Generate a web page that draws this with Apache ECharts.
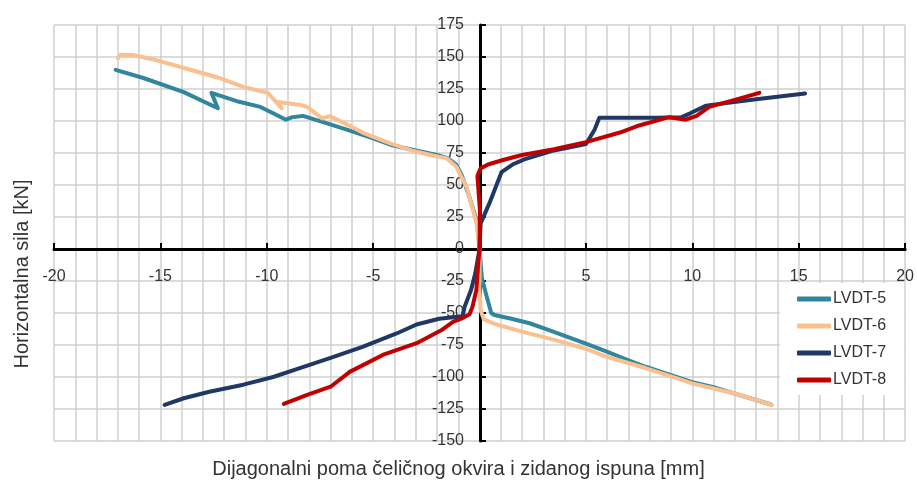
<!DOCTYPE html>
<html>
<head>
<meta charset="utf-8">
<script src="https://cdn.jsdelivr.net/npm/echarts@6/dist/echarts.min.js"></script>
<style>
html,body{margin:0;padding:0;background:#fff;}
#chart{width:917px;height:486px;}
</style>
</head>
<body>
<div id="chart"></div>
<script>
// Series names
const seriesNames = ['LVDT-5', 'LVDT-6', 'LVDT-7', 'LVDT-8'];

// [displacement mm, force kN]
const lvdt5 = [
  [-17.1,140],[-15.8,133.6],[-13.9,122.6],[-12.3,110],[-12.6,122],[-11.3,115],[-10.3,111],[-9.7,106],
  [-9.1,101],[-8.8,103],[-8.3,104],[-7.2,98.4],[-6.2,93],[-5,86.5],[-4.1,81],[-3,77],[-2,73.5],
  [-1.5,71],[-1.1,66],[-0.85,58],[-0.5,42],[-0.1,20],[0,0],
  [0.1,-22],[0.3,-35],[0.55,-50],[0.7,-51.6],[1.5,-54.5],[2.35,-58],[3.2,-63],[4.1,-68.5],[5,-74],
  [5.95,-80],[7,-87],[7.8,-92],[9,-98.5],[10,-104],[11,-108],[12,-113],[13.7,-121.5]
];
const lvdt6 = [
  [-17,149],[-16.9,151.5],[-16.3,151.5],[-15.2,147.6],[-13.8,141],[-12.3,134],[-11.1,126.6],[-9.95,122],
  [-9.3,110],[-9.55,115],[-8.4,112.5],[-8.1,111],[-7.4,102],[-7.04,103.8],[-6.2,97],[-5.5,91],[-4.2,82.5],
  [-3.2,77],[-2.2,73],[-1.56,71],[-1.08,64],[-0.6,48],[-0.14,20],[0,0],
  [0,-32],[0.05,-48],[0.2,-55],[0.8,-59],[2,-64.5],[3.75,-72],[5,-78],[5.95,-84],[7.8,-93],
  [10,-105],[11.9,-112.5],[13.75,-121.8]
];
const lvdt7 = [
  [15.3,121.5],[13,117],[10.65,112],[9.9,106],[9.5,103],[8.3,102.5],[5.63,102.5],[5.4,93],[5.0,82],
  [3.5,77],[2.1,70],[1.55,66],[1.03,60],[0.47,36],[0.05,20],[0,0],
  [-0.2,-19],[-0.4,-32],[-0.7,-45],[-0.8,-52.5],[-1.9,-54.5],[-2.96,-59],[-3.9,-66],[-5.5,-76.5],
  [-7,-85],[-8.45,-93],[-9.7,-100],[-11.1,-106],[-12.7,-111.5],[-13.9,-116.6],[-14.8,-121.8]
];
const lvdt8 = [
  [13.15,122],[12,116.5],[10.8,111],[10.2,104],[9.7,101],[8.9,103],[7.5,96.5],[6.6,91],[5,83.5],
  [3.5,78],[2.0,73.4],[1.1,69.5],[0.4,66],[0.05,63],[-0.1,57],[0.02,30],[0,0],
  [-0.05,-9],[-0.15,-32],[-0.33,-45],[-0.47,-51],[-0.8,-54],[-1.25,-57],[-1.8,-63.5],[-2.96,-73.6],
  [-4.55,-82.8],[-6.1,-96],[-7.0,-107.6],[-8.1,-114],[-9.2,-121]
];

// Axis settings
const xRange = [-20, 20, 5];
const yRange = [-150, 175, 25];
const xTitle = 'Dijagonalni poma čeličnog okvira i zidanog ispuna [mm]';
const yTitle = 'Horizontalna sila [kN]';

const colors = ['#31859c', '#fac090', '#1f3864', '#c00000'];
const allData = [lvdt5, lvdt6, lvdt7, lvdt8];
const FONT = '"Liberation Sans", Arial, Helvetica, sans-serif';

const GRID = {left: 54, right: 11, top: 25, bottom: 45};
const W = 917, H = 486;
const plotW = W - GRID.left - GRID.right;
const plotH = H - GRID.top - GRID.bottom;
// offsets that bring each axis (line, ticks, labels) onto the other axis' zero
const xAxisOffset = -plotH * (0 - yRange[0]) / (yRange[1] - yRange[0]);
const yAxisOffset = -plotW * (0 - xRange[0]) / (xRange[1] - xRange[0]);

const chart = echarts.init(document.getElementById('chart'), null, {renderer: 'canvas'});
const gridLine = {lineStyle: {color: '#cfcfcf', width: 1.5}};

chart.setOption({
  animation: false,
  backgroundColor: '#fff',
  color: colors,
  textStyle: {fontFamily: FONT},
  grid: {...GRID, containLabel: false},
  xAxis: {
    type: 'value', min: xRange[0], max: xRange[1], interval: xRange[2],
    position: 'bottom', offset: xAxisOffset,
    axisLine: {show: true, onZero: false, lineStyle: {color: '#000', width: 3}},
    axisTick: {show: true, inside: true, length: 6, lineStyle: {color: '#000', width: 2}},
    axisLabel: {color: '#333', fontSize: 16, fontFamily: FONT, margin: 20},
    splitLine: {show: true, ...gridLine},
    minorTick: {show: false, splitNumber: 5},
    minorSplitLine: {show: true, ...gridLine}
  },
  yAxis: {
    type: 'value', min: yRange[0], max: yRange[1], interval: yRange[2],
    position: 'left', offset: yAxisOffset,
    axisLine: {show: true, onZero: false, lineStyle: {color: '#000', width: 3}},
    axisTick: {show: true, inside: true, length: 6, lineStyle: {color: '#000', width: 2}},
    axisLabel: {color: '#333', fontSize: 16, fontFamily: FONT, margin: 16},
    splitLine: {show: true, ...gridLine}
  },
  legend: {
    show: true,
    orient: 'vertical',
    left: 780, top: 283,
    width: 126,
    padding: [8, 18, 7, 17],
    backgroundColor: '#fff',
    itemWidth: 34, itemHeight: 5, itemGap: 11,
    icon: 'roundRect',
    textStyle: {color: '#333', fontSize: 16, fontFamily: FONT, padding: [0, 0, 0, -3]},
    data: seriesNames
  },
  graphic: [
    {type: 'text', left: 'center', top: 459,
     style: {text: xTitle, font: '20px ' + FONT, fill: '#333'}},
    {type: 'text', x: 22, y: 274, rotation: Math.PI / 2,
     style: {text: yTitle, font: '20px ' + FONT, fill: '#333', align: 'center', verticalAlign: 'middle'}}
  ],
  series: allData.map((d, i) => ({
    name: seriesNames[i],
    type: 'line',
    data: d,
    symbol: 'none',
    smooth: false,
    lineStyle: {width: 4, color: colors[i], cap: 'round', join: 'round'},
    itemStyle: {color: colors[i]}
  }))
});
</script>
</body>
</html>
